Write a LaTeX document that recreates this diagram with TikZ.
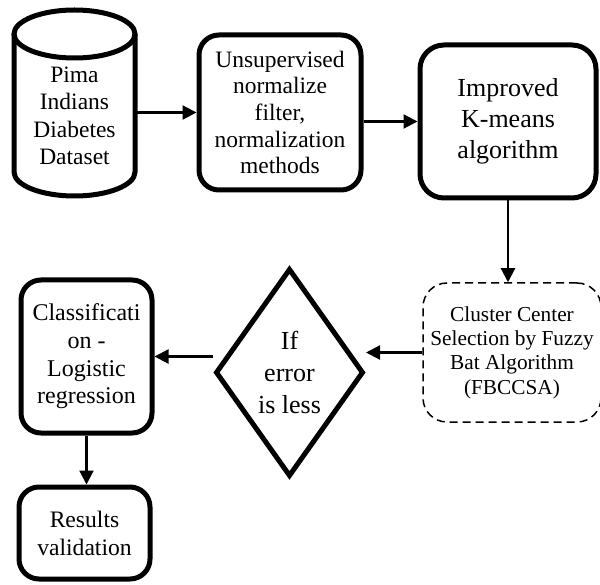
\documentclass[tikz,border=0pt]{standalone}
\usepackage{fontspec}
\setmainfont{Liberation Serif}
\usetikzlibrary{shapes.geometric,arrows.meta}

\begin{document}
\begin{tikzpicture}[x=1pt, y=-1pt,
    box/.style={draw, line width=5pt, rounded corners=20pt, align=center, inner sep=0pt},
    arr/.style={line width=2.2pt, -{Triangle[length=14pt, width=14pt]}}]
  \useasboundingbox (0,0) rectangle (600,585);

  % dataset cylinder
  \draw[line width=5pt] (74.5,34) ellipse [x radius=60.5pt, y radius=24pt];
  \draw[line width=5pt] (14,34) -- (14,172)
    arc[start angle=180, end angle=360, x radius=60.5pt, y radius=24pt] -- (135,34);
  \node[align=center, inner sep=0pt, minimum width=121pt,
        font=\fontsize{23.5}{27.5}\selectfont] (data) at (74.5,116) {Pima\\Indians\\Diabetes\\Dataset};

  \node[box, minimum width=162pt, minimum height=155pt,
        font=\fontsize{23.5}{26.7}\selectfont] (unsup) at (280,112.5) {Unsupervised\\normalize\\filter,\\normalization\\methods};
  \node[box, rounded corners=24pt, minimum width=176pt, minimum height=153pt,
        font=\fontsize{26}{31}\selectfont] (kmeans) at (508,121.5) {Improved\\K-means\\algorithm};

  \node[draw, line width=1.5pt, dash pattern=on 8pt off 5pt, rounded corners=24pt, align=center,
        inner sep=0pt, minimum width=178pt, minimum height=139pt,
        font=\fontsize{21.3}{24.4}\selectfont] (fbccsa) at (512,352.5) {Cluster Center\\Selection by Fuzzy\\Bat Algorithm\\(FBCCSA)};

  \node[diamond, draw, line width=5pt, aspect=0.71, inner sep=0pt, align=center,
        minimum width=148pt, minimum height=208pt,
        font=\fontsize{26}{31.7}\selectfont] (cond) at (289.5,372.5) {If\\error\\is less};

  \node[box, minimum width=131pt, minimum height=153pt,
        font=\fontsize{24}{27.6}\selectfont] (classif) at (86.5,356.5) {Classificati\\on -\\Logistic\\regression};
  \node[box, minimum width=131pt, minimum height=92pt,
        font=\fontsize{23.6}{28}\selectfont] (results) at (84.5,533) {Results\\validation};

  \draw[arr] (data.east |- unsup.west) -- (unsup.west);
  \draw[arr] (unsup.east |- kmeans.west) -- (kmeans.west);
  \draw[arr] (kmeans.south) -- (kmeans.south |- fbccsa.north);
  \draw[arr] (fbccsa.west) -- (fbccsa.west -| cond.east);
  \draw[arr] (classif.east -| cond.west) -- (classif.east);
  \draw[arr] (classif.south) -- (classif.south |- results.north);
\end{tikzpicture}
\end{document}
